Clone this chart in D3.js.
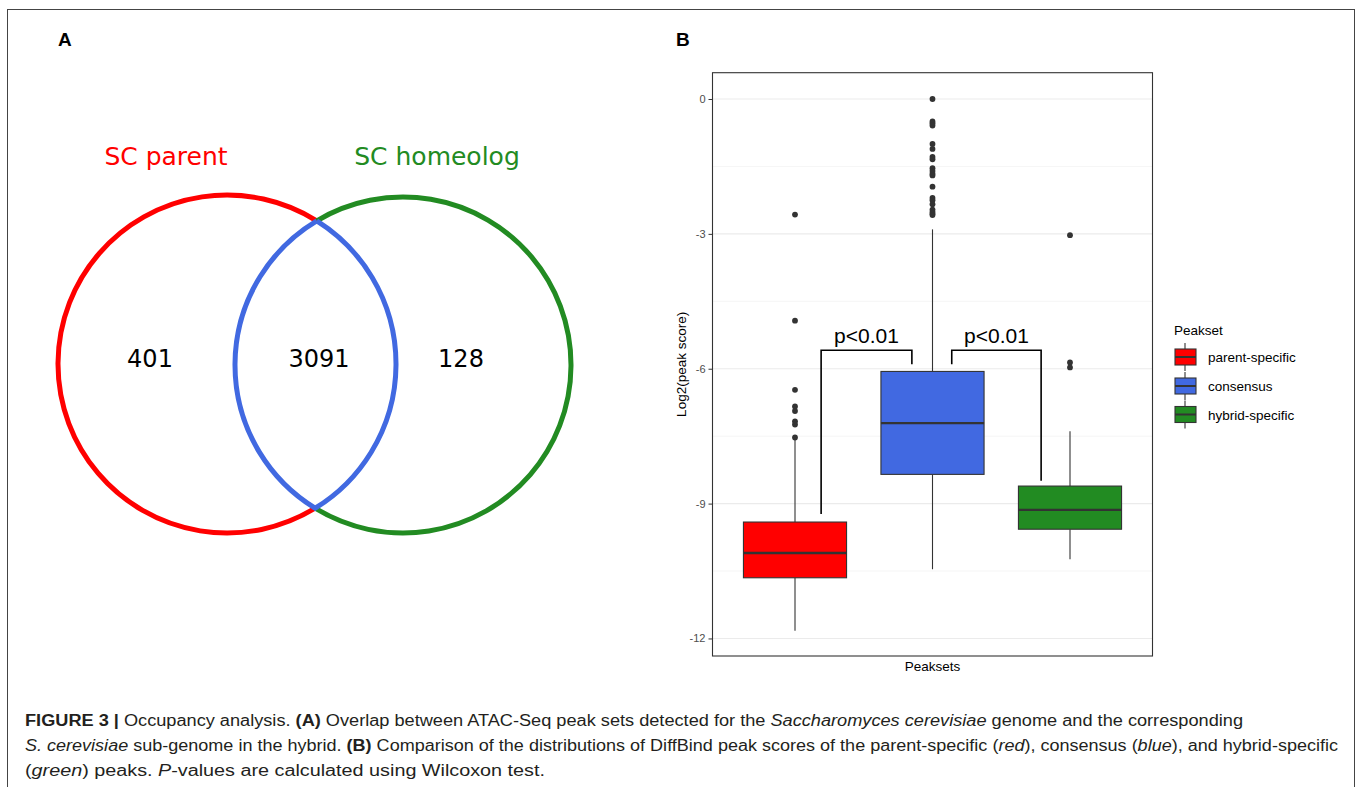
<!DOCTYPE html>
<html>
<head>
<meta charset="utf-8">
<script src="https://cdn.jsdelivr.net/npm/d3@7"></script>
<style>
  html, body { margin: 0; padding: 0; background: #fff; }
  svg { display: block; }
</style>
</head>
<body>
<svg id="chart" width="1357" height="787"></svg>
<script>
// ---------------- DATA ----------------
// Panel A: Venn
const vennSets = ["SC parent", "SC homeolog"];
const vennCounts = [401, 3091, 128]; // parent only, shared, homeolog only

// Panel B: box plot
const categories = ["parent-specific", "consensus", "hybrid-specific"];
const boxColors = ["#FF0000", "#4169E1", "#228B22"];
const q1 = [-10.65, -8.35, -9.57];
const medians = [-10.10, -7.21, -9.14];
const q3 = [-9.41, -6.06, -8.61];
const whiskerLow = [-11.83, -10.46, -10.24];
const whiskerHigh = [-7.53, -2.90, -7.39];
const outliersParent = [-2.57, -4.93, -6.47, -6.84, -6.94, -7.17, -7.24, -7.53];
const outliersConsensus = [0.0, -0.50, -0.54, -0.59, -1.00, -1.11, -1.29, -1.34, -1.54, -1.60, -1.66, -1.70, -1.95, -2.20, -2.25, -2.34, -2.46, -2.51, -2.55, -2.58];
const outliersHybrid = [-3.03, -5.86, -5.97];
const yTicks = [0, -3, -6, -9, -12];
const yTickLabels = ["0", "-3", "-6", "-9", "-12"];
const yMinorTicks = [-1.5, -4.5, -7.5, -10.5];
// significance brackets: category-index positions and y-values
const bracketXStart = [1.19, 2.14];
const bracketXEnd = [1.85, 2.79];
const bracketYStart = [-9.23, -5.90];
const bracketYEnd = [-5.90, -8.49];
const bracketYTop = [-5.59, -5.59];
const bracketLabels = ["p<0.01", "p<0.01"];

// ---------------- DRAW ----------------
const svg = d3.select("#chart");
const SANS = "'Liberation Sans', Arial, Helvetica, sans-serif";
const DEJAVU = "'DejaVu Sans', sans-serif";

// outer frame
svg.append("rect").attr("x", 7.5).attr("y", 9.5).attr("width", 1347).attr("height", 790)
  .attr("fill", "none").attr("stroke", "#444").attr("stroke-width", 1);

// panel letters
svg.append("text").attr("x", 58).attr("y", 46).text("A")
  .attr("font-family", SANS).attr("font-weight", "bold").attr("font-size", 19).attr("fill", "#000");
svg.append("text").attr("x", 676).attr("y", 46).text("B")
  .attr("font-family", SANS).attr("font-weight", "bold").attr("font-size", 19).attr("fill", "#000");

// ---------- Panel A: Venn ----------
const circles = [
  { cx: 227, cy: 364, r: 169, color: "#FF0000" },
  { cx: 403, cy: 365, r: 168, color: "#228B22" }
];
const vennLabelX = [166, 437];
const vennCountX = [150, 319, 461];
const gV = svg.append("g");
function circleIntersections(a, b) {
  const dx = b.cx - a.cx, dy = b.cy - a.cy;
  const d = Math.hypot(dx, dy);
  const al = (a.r * a.r - b.r * b.r + d * d) / (2 * d);
  const h = Math.sqrt(a.r * a.r - al * al);
  const xm = a.cx + al * dx / d, ym = a.cy + al * dy / d;
  return [
    [xm + h * dy / d, ym - h * dx / d],
    [xm - h * dy / d, ym + h * dx / d]
  ];
}
const [P1, P2] = circleIntersections(circles[0], circles[1]);
const pTop = P1[1] < P2[1] ? P1 : P2, pBot = P1[1] < P2[1] ? P2 : P1;
const a = circles[0], b = circles[1];
gV.append("path")
  .attr("d", `M${pTop[0]},${pTop[1]} A${a.r},${a.r} 0 1 0 ${pBot[0]},${pBot[1]}`)
  .attr("fill", "none").attr("stroke", a.color).attr("stroke-width", 5);
gV.append("path")
  .attr("d", `M${pTop[0]},${pTop[1]} A${b.r},${b.r} 0 1 1 ${pBot[0]},${pBot[1]}`)
  .attr("fill", "none").attr("stroke", b.color).attr("stroke-width", 5);
gV.append("path")
  .attr("d", `M${pTop[0]},${pTop[1]} A${a.r},${a.r} 0 0 1 ${pBot[0]},${pBot[1]} A${b.r},${b.r} 0 0 1 ${pTop[0]},${pTop[1]}`)
  .attr("fill", "none").attr("stroke", "#4169E1").attr("stroke-width", 5).attr("stroke-linejoin", "miter");

gV.selectAll("text.setlabel").data(vennSets).enter().append("text")
  .attr("class", "setlabel")
  .attr("x", (d, i) => vennLabelX[i]).attr("y", 165)
  .attr("text-anchor", "middle")
  .attr("font-family", DEJAVU).attr("font-size", 25)
  .attr("fill", (d, i) => circles[i].color)
  .text(d => d);
gV.selectAll("text.count").data(vennCounts).enter().append("text")
  .attr("class", "count")
  .attr("x", (d, i) => vennCountX[i]).attr("y", 367)
  .attr("text-anchor", "middle")
  .attr("font-family", DEJAVU).attr("font-size", 24)
  .attr("fill", "#000")
  .text(d => d);

// ---------- Panel B: box plot ----------
const panel = { left: 712.5, right: 1152.5, top: 72.7, bottom: 656 };
const y = d3.scaleLinear().domain([-12.39, 0.585]).range([panel.bottom, panel.top]);
const xi = d3.scaleLinear().domain([0.4, 3.6]).range([panel.left, panel.right]);
const x = d3.scalePoint().domain(categories).range([panel.left, panel.right]).padding(0.6);
const boxW = 0.75 * x.step();

const gB = svg.append("g");
gB.append("rect").attr("x", panel.left).attr("y", panel.top)
  .attr("width", panel.right - panel.left).attr("height", panel.bottom - panel.top)
  .attr("fill", "#fff");
gB.selectAll("line.minor").data(yMinorTicks).enter().append("line")
  .attr("x1", panel.left).attr("x2", panel.right)
  .attr("y1", d => y(d)).attr("y2", d => y(d))
  .attr("stroke", "#F2F2F2").attr("stroke-width", 0.8);
gB.selectAll("line.major").data(yTicks).enter().append("line")
  .attr("x1", panel.left).attr("x2", panel.right)
  .attr("y1", d => y(d)).attr("y2", d => y(d))
  .attr("stroke", "#EBEBEB").attr("stroke-width", 1.1);

// y axis
const yAxis = d3.axisLeft(y).tickValues(yTicks).tickSize(4).tickPadding(3)
  .tickFormat(d => yTickLabels[yTicks.indexOf(d)]);
const gAxis = gB.append("g").attr("transform", `translate(${panel.left},0)`).call(yAxis);
gAxis.select(".domain").remove();
gAxis.selectAll(".tick line").attr("stroke", "#333").attr("stroke-width", 1);
gAxis.selectAll(".tick text").attr("fill", "#4D4D4D").attr("font-size", 11).attr("font-family", SANS);

const boxes = categories.map((c, i) => ({
  c, i, q1: q1[i], med: medians[i], q3: q3[i], lo: whiskerLow[i], hi: whiskerHigh[i], color: boxColors[i]
}));
gB.selectAll("line.wU").data(boxes).enter().append("line")
  .attr("x1", d => x(d.c)).attr("x2", d => x(d.c))
  .attr("y1", d => y(d.q3)).attr("y2", d => y(d.hi))
  .attr("stroke", "#333").attr("stroke-width", 1.1);
gB.selectAll("line.wL").data(boxes).enter().append("line")
  .attr("x1", d => x(d.c)).attr("x2", d => x(d.c))
  .attr("y1", d => y(d.q1)).attr("y2", d => y(d.lo))
  .attr("stroke", "#333").attr("stroke-width", 1.1);
gB.selectAll("rect.box").data(boxes).enter().append("rect")
  .attr("x", d => x(d.c) - boxW / 2).attr("width", boxW)
  .attr("y", d => y(d.q3)).attr("height", d => y(d.q1) - y(d.q3))
  .attr("fill", d => d.color).attr("stroke", "#333").attr("stroke-width", 1.1);
gB.selectAll("line.med").data(boxes).enter().append("line")
  .attr("x1", d => x(d.c) - boxW / 2).attr("x2", d => x(d.c) + boxW / 2)
  .attr("y1", d => y(d.med)).attr("y2", d => y(d.med))
  .attr("stroke", "#333").attr("stroke-width", 2.4);
const outlierSets = [outliersParent, outliersConsensus, outliersHybrid];
const outPts = [];
outlierSets.forEach((arr, i) => arr.forEach(v => outPts.push({ c: categories[i], v })));
gB.selectAll("circle.out").data(outPts).enter().append("circle")
  .attr("cx", d => x(d.c)).attr("cy", d => y(d.v)).attr("r", 2.9)
  .attr("fill", "#333");

bracketLabels.forEach((lab, i) => {
  const x0 = xi(bracketXStart[i]), x1 = xi(bracketXEnd[i]);
  const yt = y(bracketYTop[i]);
  gB.append("path")
    .attr("d", `M${x0},${y(bracketYStart[i])} L${x0},${yt} L${x1},${yt} L${x1},${y(bracketYEnd[i])}`)
    .attr("fill", "none").attr("stroke", "#000").attr("stroke-width", 1.6);
  gB.append("text").attr("x", (x0 + x1) / 2).attr("y", yt - 7)
    .attr("text-anchor", "middle").attr("font-family", SANS).attr("font-size", 21)
    .attr("fill", "#000").text(lab);
});

gB.append("rect").attr("x", panel.left).attr("y", panel.top)
  .attr("width", panel.right - panel.left).attr("height", panel.bottom - panel.top)
  .attr("fill", "none").attr("stroke", "#333").attr("stroke-width", 1.1);

gB.append("text").attr("x", (panel.left + panel.right) / 2).attr("y", 671)
  .attr("text-anchor", "middle").attr("font-family", SANS).attr("font-size", 13.5)
  .attr("fill", "#000").text("Peaksets");
gB.append("text").attr("transform", `translate(686,${(panel.top + panel.bottom) / 2}) rotate(-90)`)
  .attr("text-anchor", "middle").attr("font-family", SANS).attr("font-size", 13.5)
  .attr("fill", "#000").text("Log2(peak score)");

// legend
const gL = svg.append("g");
gL.append("text").attr("x", 1174).attr("y", 335).attr("font-family", SANS).attr("font-size", 13.5)
  .attr("fill", "#000").text("Peakset");
const keyY = [357, 386, 414.5];
categories.forEach((c, i) => {
  const cy = keyY[i];
  gL.append("line").attr("x1", 1185).attr("x2", 1185).attr("y1", cy - 14).attr("y2", cy + 14)
    .attr("stroke", "#333").attr("stroke-width", 1.1);
  gL.append("rect").attr("x", 1175).attr("y", cy - 8).attr("width", 21).attr("height", 16)
    .attr("fill", boxColors[i]).attr("stroke", "#333").attr("stroke-width", 1.1);
  gL.append("line").attr("x1", 1175).attr("x2", 1196).attr("y1", cy).attr("y2", cy)
    .attr("stroke", "#333").attr("stroke-width", 2);
  gL.append("text").attr("x", 1208).attr("y", cy + 5).attr("font-family", SANS).attr("font-size", 13.5)
    .attr("fill", "#000").text(c);
});

// ---------- caption ----------
const capLines = [
  { y: 725.5, end: 1243, parts: [
    ["FIGURE 3 | ", "b"], ["Occupancy analysis. ", ""], ["(A)", "b"],
    [" Overlap between ATAC-Seq peak sets detected for the ", ""], ["Saccharomyces cerevisiae", "i"],
    [" genome and the corresponding", ""] ] },
  { y: 751, end: 1338, parts: [
    ["S. cerevisiae", "i"], [" sub-genome in the hybrid. ", ""], ["(B)", "b"],
    [" Comparison of the distributions of DiffBind peak scores of the parent-specific (", ""], ["red", "i"],
    ["), consensus (", ""], ["blue", "i"], ["), and hybrid-specific", ""] ] },
  { y: 776, end: 545, parts: [
    ["(", ""], ["green", "i"], [") peaks. ", ""], ["P", "i"], ["-values are calculated using Wilcoxon test.", ""] ] }
];
capLines.forEach(line => {
  const t = svg.append("text").attr("x", 25).attr("y", line.y)
    .attr("font-family", SANS).attr("font-size", 16).attr("fill", "#231F20")
    .attr("textLength", line.end - 25).attr("lengthAdjust", "spacingAndGlyphs")
    .attr("xml:space", "preserve");
  line.parts.forEach(([s, st]) => {
    const ts = t.append("tspan").text(s);
    if (st === "b") ts.attr("font-weight", "bold");
    if (st === "i") ts.attr("font-style", "italic");
  });
});
</script>
</body>
</html>
